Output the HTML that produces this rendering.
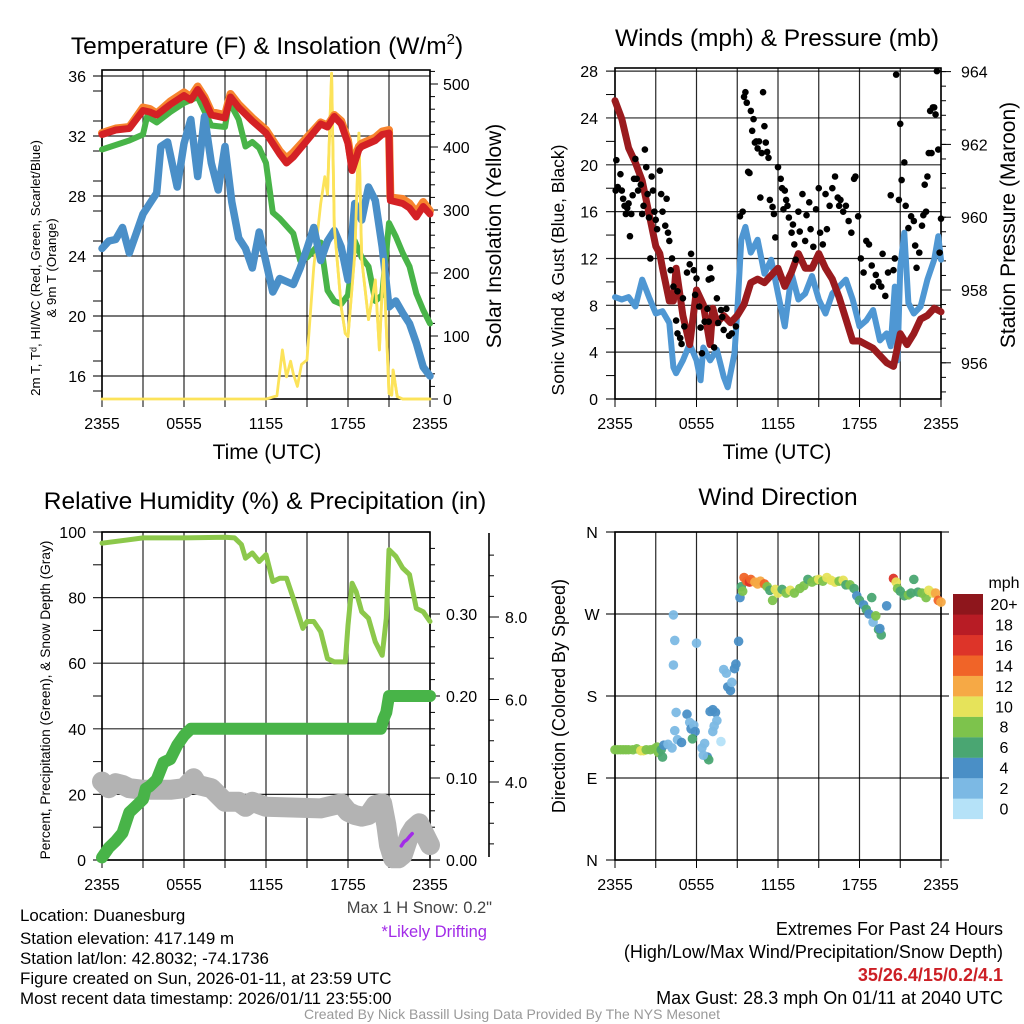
<!DOCTYPE html>
<html><head><meta charset="utf-8"><style>
html,body{margin:0;padding:0;background:#fff;}
svg{display:block;font-family:"Liberation Sans",Arial,sans-serif;}
</style></head><body>
<svg id="root" width="1024" height="1024" viewBox="0 0 1024 1024" xmlns="http://www.w3.org/2000/svg">
<rect width="1024" height="1024" fill="#fff"/>
<g id="g1"></g>
<g id="g2"></g>
<g id="g3"></g>
<g id="g4"></g>
<g id="txt" font-size="16.9">
<text x="20" y="921">Location: Duanesburg</text>
<text x="20" y="944">Station elevation: 417.149 m</text>
<text x="20" y="964">Station lat/lon: 42.8032; -74.1736</text>
<text x="20" y="984">Figure created on Sun, 2026-01-11, at 23:59 UTC</text>
<text x="20" y="1004">Most recent data timestamp: 2026/01/11 23:55:00</text>
<text x="492" y="913" text-anchor="end" fill="#444" font-size="16.5">Max 1 H Snow: 0.2"</text>
<text x="487" y="937" text-anchor="end" fill="#a22be8" font-size="16.5">*Likely Drifting</text>
<g font-size="18">
<text x="1003" y="935" text-anchor="end">Extremes For Past 24 Hours</text>
<text x="1003" y="958" text-anchor="end">(High/Low/Max Wind/Precipitation/Snow Depth)</text>
<text x="1003" y="981" text-anchor="end" fill="#cc1f25" font-weight="bold">35/26.4/15/0.2/4.1</text>
<text x="1003" y="1004" text-anchor="end">Max Gust: 28.3 mph On 01/11 at 2040 UTC</text>
</g>
<text x="512" y="1019" text-anchor="middle" fill="#999" font-size="14">Created By Nick Bassill Using Data Provided By The NYS Mesonet</text>
</g>
</svg>
<script>
// ---- Panel 1 data ----
const redH=[0,1,2,3,3.5,4,5,6,6.5,7,7.5,8,9,9.4,10,11,12,13,13.5,14,15,16,16.5,17,17.5,18,18.3,18.8,19,20,20.5,21,21.1,22,22.5,23,23.5,24];
const redV=[32.1,32.4,32.5,33.7,33.6,33.4,34.1,34.7,34.4,35.1,34.4,33.4,33.2,34.6,33.9,33.0,32.2,30.8,30.2,30.6,31.7,32.8,32.6,33.3,32.8,31.5,29.7,31.1,31.3,31.7,32.1,32.2,27.7,27.5,27.2,26.6,27.3,26.8];
const orgV=[32.2,32.5,32.6,33.9,33.8,33.5,34.3,34.9,34.6,35.3,34.6,33.6,33.4,34.8,34.1,33.2,32.4,31.0,30.5,30.9,31.9,32.9,32.7,33.4,33.0,31.7,30.0,31.3,31.5,31.9,32.3,32.4,27.9,27.8,27.5,26.9,27.6,27.0];
const grnH=[0,2,3,3.3,4,5,6,7,8,9,9.3,10,10.5,11,11.5,12,12.5,13,14,14.5,15,16,16.5,17,17.5,18,18.5,19,19.5,20,20.5,21,21.5,22,22.5,23,23.5,24];
const grnV=[31.1,31.7,32.1,33.3,32.9,33.6,34.2,34.6,32.7,32.6,34.3,33.1,31.3,31.6,31.2,30.2,26.9,26.5,25.5,23.7,23.9,24.9,21.7,21.0,20.8,21.4,25.0,23.9,23.3,21.0,21.4,26.2,25.3,24.2,23.3,21.5,20.4,19.5];
const bluH=[0,0.5,1,1.5,2,2.5,3,3.5,4,4.3,4.8,5.5,6,6.5,7,7.5,8,8.5,9,9.5,10,10.5,11,11.5,12,12.5,13,14,14.5,15,15.5,16,16.5,17,17.5,18,18.5,19,19.5,20,20.5,21,21.5,22,22.5,23,23.5,24];
const bluV=[24.5,25.0,25.1,25.9,24.2,25.5,26.8,27.5,28.2,31.3,31.6,28.6,31.5,33.1,29.3,33.3,30.2,28.4,31.3,27.6,25.2,24.5,23.2,25.6,23.6,21.6,22.5,22.1,23.2,24.5,25.9,23.7,25.0,25.7,24.6,22.4,27.5,26.4,28.6,27.7,24.6,20.6,21.0,20.2,19.5,18.2,16.6,16.0];
const solH=[0,12,12.8,13.2,13.5,13.8,14.0,14.3,14.6,15.0,15.5,16.0,16.3,16.5,16.8,17.0,17.5,17.8,18.0,18.5,18.8,19.0,19.5,20.0,20.3,20.6,21.0,21.2,21.3,21.6,22,24];
const solV=[0,0,5,78,35,60,40,20,55,62,210,310,353,325,517,274,146,104,99,231,422,222,126,189,78,222,9,6,46,4,0,0];
// ---- Panel 2 data ----
const presH=[0,0.5,1,1.5,2,3,3.3,3.5,4,4.3,4.5,5,5.5,6,6.5,7,7.2,7.5,8,8.5,9,9.5,10,10.5,11,11.5,12,12.5,13,13.5,14,14.5,15,15.5,16,16.5,17,17.5,18,18.5,19,19.5,20,20.5,21,21.5,22,22.5,23,23.5,24];
const presV=[963.2,962.7,961.9,961.5,961.0,959.2,959.0,958.6,957.7,957.7,958.6,957.3,956.5,958.0,957.6,956.5,957.5,957.1,957.3,957.1,957.3,957.6,958.2,958.3,958.2,958.4,958.6,958.1,958.5,959.0,958.6,958.6,959.0,958.6,958.3,957.8,957.2,956.6,956.6,956.5,956.4,956.2,956.0,955.9,956.8,956.5,956.8,957.2,957.3,957.5,957.4];
const windH=[0,0.5,1,1.5,2,2.5,3,3.5,4,4.3,4.5,5,5.5,6,6.3,6.5,7,7.5,8,8.3,8.8,9,9.3,9.6,10,10.5,11,11.5,12,12.5,13,13.5,14,14.5,15,15.5,16,16.5,17,17.5,18,18.5,19,19.5,20,20.3,20.6,20.8,21,21.3,21.6,22,22.5,23,23.5,23.8,24];
const windV=[8.7,8.5,8.7,7.9,10.2,8.7,7.3,7.5,6.5,2.7,2.2,3.3,4.7,3.3,1.6,4.4,3.3,4.2,1.9,1.0,3.9,7.5,13.6,14.7,12.5,13.6,10.7,11.9,9.0,6.2,10.7,8.5,9.0,10.5,8.5,7.3,9.0,9.6,10.2,8.5,6.2,6.7,7.6,5.0,5.6,4.5,9.6,3.3,11.3,14.2,8.2,7.3,7.9,10.2,11.9,13.9,11.9];
const gustH=[0.05,0.1,0.2,0.4,0.5,0.6,0.7,0.8,0.9,1.0,1.1,1.2,1.3,1.4,1.5,1.6,1.7,1.9,2.0,2.1,2.2,2.3,2.4,2.5,2.6,2.7,2.8,2.9,3.0,3.1,3.3,3.4,3.5,3.7,3.8,3.9,4.0,4.1,4.2,4.3,4.5,4.6,4.6,4.8,4.9,5.0,5.1,5.3,5.5,5.6,5.8,5.9,6.0,6.2,6.3,6.4,6.6,6.8,6.9,6.9,7.0,7.1,7.3,7.5,7.6,7.8,7.9,8.0,8.2,8.4,8.6,8.9,9.2,9.4,9.5,9.6,9.7,9.8,9.9,10.0,10.1,10.2,10.3,10.4,10.5,10.6,10.7,10.8,10.9,11.0,11.1,11.2,11.3,11.4,11.6,11.7,11.8,12.0,12.2,12.3,12.4,12.5,12.6,12.7,12.8,13.0,13.1,13.2,13.3,13.5,13.6,13.8,14.0,14.1,14.3,14.4,14.6,14.8,15.0,15.1,15.3,15.5,15.6,15.8,16.0,16.2,16.4,16.5,16.6,16.8,17.0,17.2,17.4,17.6,17.7,17.9,18.1,18.3,18.5,18.7,18.9,19.0,19.2,19.4,19.6,19.7,19.9,20.1,20.3,20.5,20.6,20.7,20.9,21.0,21.1,21.3,21.4,21.6,21.8,22.0,22.1,22.2,22.4,22.6,22.7,22.8,22.9,23.0,23.1,23.2,23.3,23.4,23.5,23.6,23.7,23.8,23.9,24.0];
const gustV=[17.8,20.4,18.1,19.2,17.8,17.1,16.5,15.8,16.3,16.7,13.9,15.8,17.4,18.8,20.5,18.8,17.8,18.3,15.8,16.5,21.3,19.8,17.5,15.5,12.0,19.0,17.8,16.0,15.3,14.5,19.5,17.5,16.0,14.8,17.1,14.2,13.5,11.0,12.0,9.6,6.7,5.6,9.2,5.2,4.7,8.6,6.2,10.8,11.5,12.4,11.0,8.9,10.3,7.9,6.1,3.9,6.6,7.7,6.6,10.2,11.2,10.3,4.4,8.6,6.5,7.6,7.0,5.9,7.7,5.4,5.6,6.2,15.6,16.0,25.8,26.2,25.3,19.4,19.3,24.6,22.9,23.9,21.9,22.0,21.4,22.0,17.2,21.0,26.2,23.3,21.9,21.1,20.6,17.0,16.4,15.8,13.8,19.8,18.8,18.0,16.2,17.8,17.0,16.5,15.5,14.2,14.9,13.2,11.9,16.0,14.3,17.5,13.5,15.7,16.8,14.5,13.0,16.2,18.0,14.2,13.2,17.5,14.5,16.5,18.0,19.0,17.2,16.5,17.0,16.0,16.5,15.2,14.2,18.8,19.0,15.6,12.0,10.8,13.5,13.2,11.4,9.6,10.6,10.0,9.6,12.4,8.8,10.8,17.4,11.0,12.0,27.7,17.0,23.5,18.7,20.2,16.5,14.6,15.6,15.2,13.1,11.2,12.5,14.8,15.7,18.3,16.0,19.0,21.0,24.6,21.0,24.9,24.9,24.3,28.0,21.3,12.5,15.4];
// ---- Panel 3 data ----
const rhH=[0,3,6,9,9.7,10.2,10.5,11,11.5,12,12.5,13,13.5,14,14.7,15,15.5,16,16.5,17,17.5,17.8,18,18.3,18.6,19,19.5,20,20.5,20.8,21,21.5,22,22.5,23,23.5,24];
const rhV=[96.6,98.2,98.2,98.4,98.2,96.2,92.0,93.6,91.0,93.1,84.9,85.9,85.9,79.8,70.6,72.7,72.7,69.6,61.4,60.4,60.4,60.4,71.6,84.4,81.8,75.7,73.7,66.5,62.4,73.7,94.6,92.6,89.0,87.0,76.7,75.7,72.7];
const prH=[0,0.5,1,1.5,2,2.5,3,3.2,3.5,4,4.5,5,5.5,6,6.5,7,20.4,20.6,20.8,21,24];
const prV=[0.003,0.015,0.023,0.033,0.058,0.066,0.074,0.087,0.09,0.098,0.119,0.123,0.14,0.152,0.16,0.16,0.16,0.172,0.18,0.2,0.2];
const snH=[0,0.5,1,1.5,2,3,5,6,6.7,7,8,9,10,10.5,11,12,16,17,17.5,18,18.5,19,19.5,20,20.5,20.8,21,21.3,21.7,22,22.5,22.8,23.2,23.5,24];
const snV=[4.01,3.85,3.97,3.93,3.85,3.81,3.81,3.85,4.09,3.93,3.85,3.52,3.52,3.40,3.52,3.40,3.36,3.44,3.48,3.28,3.2,3.16,3.2,3.44,3.48,2.96,2.47,2.15,2.15,2.23,2.72,2.88,3.0,2.8,2.47];
const driftH=[21.9,22.1,22.3,22.5,22.7];
const driftV=[2.45,2.55,2.6,2.68,2.75];
// ---- Panel 4 data ----
const dirH=[0,0.2,0.4,0.6,0.8,1.0,1.3,1.6,1.9,2.1,2.3,2.6,2.9,3.1,3.2,3.4,3.5,3.6,3.9,4.2,4.3,4.4,4.3,4.5,4.4,4.6,4.9,5.3,5.5,5.6,5.8,5.9,5.7,6.0,6.4,6.6,6.8,6.9,6.5,7.0,7.2,7.4,7.5,7.3,7.2,7.8,8.0,8.2,8.3,8.5,8.6,8.8,8.9,9.1,9.2,9.3,9.4,9.5,9.7,9.9,10.0,10.3,10.5,10.7,11.0,11.2,11.4,11.6,11.8,12.0,12.3,12.6,12.9,13.2,13.6,13.9,14.2,14.5,14.8,15.0,15.3,15.6,15.9,16.2,16.5,16.8,17.0,17.3,17.6,17.8,18.0,18.3,18.5,18.7,18.9,19.0,19.2,19.4,19.6,19.5,20.0,20.5,20.7,20.8,21.0,21.3,21.6,21.8,22.0,22.3,22.6,22.9,23.1,23.4,23.6,23.8,24.0];
const dirV=[121,121,121,121,121,121,121,122,120,120,121,121,122,124,118,121,113,126,127,123,269,241,214,162,142,132,129,160,151,144,148,141,133,238,123,128,113,110,115,163,165,162,153,147,141,130,209,205,190,186,195,210,215,240,288,300,295,310,306,305,308,305,303,306,303,300,296,285,297,293,297,293,296,293,298,301,308,305,307,308,306,310,307,305,306,307,302,302,298,290,285,280,275,270,288,261,268,253,247,254,279,309,305,298,295,290,291,293,308,294,293,288,296,293,293,285,283];
const dirS=[8,8,8,8,8,8,8,8,10,10,8,8,8,8,8,6,6,4,2,2,2,2,2,2,2,2,4,4,2,4,2,4,6,2,2,2,4,6,2,4,4,4,2,2,2,0,2,2,4,4,2,4,4,4,4,6,8,14,14,16,14,12,12,12,14,8,6,8,10,10,6,8,10,8,8,8,6,8,8,10,8,10,10,10,8,10,6,8,6,4,6,4,6,4,6,2,8,6,6,4,4,16,10,8,6,6,8,6,6,6,8,8,10,10,12,14,12];
const spdColors=["#b5e2f8","#7cb9e4","#4a8fc6","#4aa672","#7dc34c","#e6e35a","#f6a945","#f06428","#dd3429","#b81c25","#8e161c"];
const spdLabels=["0","2","4","6","8","10","12","14","16","18","20+"];
const timeLabels=["2355","0555","1155","1755","2355"];

const NS="http://www.w3.org/2000/svg";
const TF=16;
function mk(tag,attrs,parent){const e=document.createElementNS(NS,tag);for(const k in attrs)e.setAttribute(k,attrs[k]);parent.appendChild(e);return e;}
function pathD(xs,ys,fx,fy){return xs.map((h,i)=>(i?"L":"M")+fx(h).toFixed(1)+","+fy(ys[i]).toFixed(1)).join("");}

function frame(g,x0,x1,y0,y1,name){
  for(let k=0;k<=8;k++){const x=x0+(x1-x0)*k/8;
    const l=mk('line',{x1:x,x2:x,y1:y0,y2:y1,stroke:"#000","stroke-width":1.2,"stroke-opacity":0.85},g);
    
    
    const t=mk('line',{x1:x,x2:x,y1:y1,y2:y1+8,stroke:"#000","stroke-width":1},g);
    
    
  }
  timeLabels.forEach((s,i)=>{const t=mk('text',{x:x0+(x1-x0)*i/4,y:y1+30,"text-anchor":"middle","font-size":TF},g);t.textContent=s;
    
    });
  const r=mk('rect',{x:x0,y:y0,width:x1-x0,height:y1-y0,fill:"none",stroke:"#000","stroke-width":1.6},g);
  
  
}
function hgrid(g,x0,x1,y,label,lx,anchor){
  const l=mk('line',{x1:x0-9,x2:x1,y1:y,y2:y,stroke:"#000","stroke-width":1.2,"stroke-opacity":0.85},g);
  
  
  if(label!==null){const t=mk('text',{x:lx,y:y+6,"text-anchor":anchor,"font-size":TF},g);t.textContent=label;
    
    }
}
function minor(g,x,y,len){const l=mk('line',{x1:x,x2:x+len,y1:y,y2:y,stroke:"#000","stroke-width":1},g);
  
  }
function label(g,x,y,txt,size,rot,name,fill){const t=mk('text',{x:x,y:y,"text-anchor":"middle","font-size":size,fill:fill||"#000"},g);
  if(rot)t.setAttribute('transform','rotate(-90 '+x+' '+y+')');t.textContent=txt;
  
  return t;}
function line(g,xs,ys,fx,fy,color,w,name,op){const p=mk('path',{d:pathD(xs,ys,fx,fy),fill:"none",stroke:color,"stroke-width":w,"stroke-linejoin":"round","stroke-linecap":"round","stroke-opacity":op||1},g);
  
  return p;}

// ===== Panel 1 =====
(function(){const g=document.getElementById('g1');
const X=h=>102+h/24*328, YT=t=>76+(36-t)*15, YS=w=>399-w*0.63;
frame(g,102,430,70,399,'temperature');
for(let t=16;t<=36;t+=4)hgrid(g,102,430,YT(t),String(t),86,"end");
for(let t=15;t<=36;t+=2)minor(g,93,YT(t),9);
for(let w=0;w<=500;w+=100){minor(g,430,YS(w),8);const t=mk('text',{x:443,y:YS(w)+6,"font-size":TF},g);t.textContent=w;
  
  }
for(let w=20;w<=520;w+=20)minor(g,430,YS(w),5);
line(g,solH,solV,X,YS,"#fce35a",2.8,"solar-insolation-line");
line(g,grnH,grnV,X,YT,"#48b448",6,"green-line");
line(g,bluH,bluV,X,YT,"#4a8fc8",7.5,"windchill-line");
line(g,solH.slice(13),solV.slice(13),X,YS,"#fce35a",2.8,"solar-insolation-peaks");
line(g,redH,orgV,X,YT,"#f7842e",8,"9m-temp-line");
line(g,redH,redV,X,YT,"#d42125",7,"2m-temp-line");
const ti=mk('text',{x:267,y:54,"text-anchor":"middle","font-size":24.5},g);
ti.innerHTML='Temperature (F) &amp; Insolation (W/m<tspan dy="-10" font-size="15">2</tspan><tspan dy="10">)</tspan>';


label(g,40,268,"2m T, T\u1d48, HI/WC (Red, Green, Scarlet/Blue)",13.3,true,"left-axis-title");
label(g,56,268,"& 9m T (Orange)",13.3,true,"left-axis-title-2");
label(g,501,236,"Solar Insolation (Yellow)",21,true,"right-axis-title");
label(g,267,459,"Time (UTC)",21,false,"x-axis-title");
})();

// ===== Panel 2 =====
(function(){const g=document.getElementById('g2');
const X=h=>615+h/24*326, YW=m=>399-m*11.71, YP=p=>290-(p-958)*36.4;
frame(g,615,941,68,399,'wind');
for(let m=0;m<=28;m+=4)hgrid(g,615,941,YW(m),String(m),598,"end");
for(let m=2;m<=28;m+=4)minor(g,606,YW(m),9);
for(let p=956;p<=964;p+=2){minor(g,941,YP(p),10);const t=mk('text',{x:961,y:YP(p)+6,"font-size":TF},g);t.textContent=p;
  
  }
for(let p=955.2;p<=964.2;p+=0.4)minor(g,941,YP(p),5);
line(g,windH,windV,X,YW,"#4f97d3",6,"sonic-wind-line");
line(g,presH,presV,X,YP,"#9a1b1e",7,"pressure-line");
gustH.forEach((h,i)=>{const c=mk('circle',{cx:X(h),cy:YW(gustV[i]),r:3.3,fill:"#000"},g);
  
  });
label(g,777,46,"Winds (mph) & Pressure (mb)",24.5,false,"wind-title");
label(g,564,270,"Sonic Wind & Gust (Blue, Black)",17.5,true,"wind-axis-title");
label(g,1015,225,"Station Pressure (Maroon)",21,true,"pressure-axis-title");
label(g,777,459,"Time (UTC)",21,false,"x-axis-title");
})();

// ===== Panel 3 =====
(function(){const g=document.getElementById('g3');
const X=h=>102+h/24*328, YR=r=>860-r*3.28, YPr=v=>YR(v*250), YSn=s=>782-(s-4)*41.25;
frame(g,102,430,532,860,'humidity');
for(let r=0;r<=100;r+=20)hgrid(g,102,430,YR(r),String(r),86,"end");
for(let r=10;r<=100;r+=20)minor(g,93,YR(r),9);
[0,0.1,0.2,0.3].forEach(v=>{minor(g,430,YPr(v),10);const t=mk('text',{x:446,y:YPr(v)+6,"font-size":TF},g);t.textContent=v.toFixed(2);
  
  });
for(let v=0.02;v<=0.4;v+=0.02)minor(g,430,YPr(v),5);
const ax=mk('line',{x1:489,x2:489,y1:533,y2:857,stroke:"#000","stroke-width":1.6},g);


[4,6,8].forEach(s=>{minor(g,489,YSn(s),10);const t=mk('text',{x:505,y:YSn(s)+6,"font-size":TF},g);t.textContent=s.toFixed(1);
  
  });
for(let s=2.5;s<=9.8;s+=0.5)minor(g,489,YSn(s),5);
line(g,snH,snV,X,YSn,"#b3b3b3",20,"snow-depth-line");
line(g,prH,prV,X,YPr,"#48b448",12,"precipitation-line");
line(g,rhH,rhV,X,YR,"#8cc84b",5,"relative-humidity-line");
line(g,driftH,driftV,X,YSn,"#a22be8",3.5,"drifting-snow-line");
label(g,265,509,"Relative Humidity (%) & Precipitation (in)",24.5,false,"humidity-title");
label(g,50,700,"Percent, Precipitation (Green), & Snow Depth (Gray)",13.7,true,"humidity-axis-title");
})();

// ===== Panel 4 =====
(function(){const g=document.getElementById('g4');
const X=h=>615+h/24*326, YD=d=>860-d*328/360;
frame(g,615,941,532,860,'direction');
["N","E","S","W","N"].forEach((s,i)=>hgrid(g,615,949,YD(i*90),s,592,"middle"));
dirH.forEach((h,i)=>{const c=mk('circle',{cx:X(h),cy:YD(dirV[i]),r:4.8,fill:spdColors[Math.min(10,Math.round(dirS[i]/2))],"fill-opacity":0.95},g);
  
  });
for(let i=0;i<11;i++){const y=594+(10-i)*20.45;
  const r=mk('rect',{x:953,y:y,width:30,height:20.6,fill:spdColors[i]},g);
  
  
  const t=mk('text',{x:1004,y:y+16,"text-anchor":"middle","font-size":TF},g);t.textContent=spdLabels[i];
  
  }
label(g,1004,588,"mph",TF,false,"colorbar-title");
label(g,778,505,"Wind Direction",24.5,false,"direction-title");
label(g,565,696,"Direction (Colored By Speed)",18,true,"direction-axis-title");
})();
</script>
</body></html>
